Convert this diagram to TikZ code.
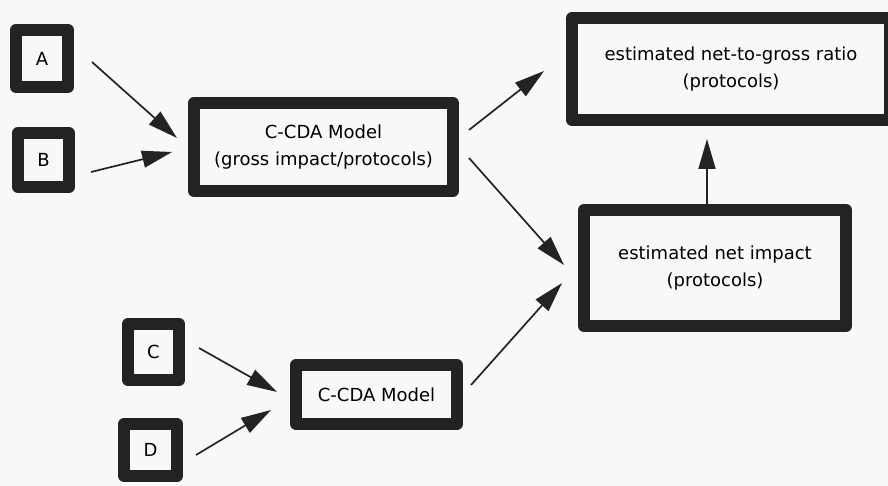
\documentclass[tikz,border=0pt]{standalone}
\usepackage{fontspec}
\setmainfont{DejaVu Sans}
\usetikzlibrary{arrows.meta}
\definecolor{ink}{HTML}{232323}
\definecolor{paper}{HTML}{F8F8F6}
\begin{document}
\begin{tikzpicture}[x=1pt,y=-1pt,
  box/.style={draw=ink, line width=12pt, line join=round, fill=paper,
    inner sep=0pt, align=center, text=black,
    font=\fontsize{18}{27}\selectfont},
  arr/.style={draw=ink, line width=1.7pt,
    -{Triangle[length=30pt,width=17pt]}}]
  % canvas
  \useasboundingbox (0,0) rectangle (888,486);
  \clip (0,0) rectangle (888,486);
  \fill[paper] (0,0) rectangle (888,486);

  % input boxes
  \node[box, minimum width=52pt, minimum height=57pt] (A) at (42,58.5) {A};
  \node[box, minimum width=51pt, minimum height=54pt] (B) at (43.5,160) {B};
  \node[box, minimum width=51pt, minimum height=56pt] (C) at (153.5,352) {C};
  \node[box, minimum width=53pt, minimum height=52pt] (D) at (150.5,450) {D};

  % models
  \node[box, minimum width=259pt, minimum height=88pt] (G) at (323.5,147)
    {C-CDA Model\\(gross impact/protocols)};
  \node[box, minimum width=161pt, minimum height=59pt] (M) at (376.5,394.5)
    {C-CDA Model};

  % results
  \node[box, minimum width=318pt, minimum height=102pt] (R) at (731,69)
    {estimated net-to-gross ratio\\(protocols)};
  \node[box, minimum width=262pt, minimum height=116pt] (N) at (715,268)
    {estimated net impact\\(protocols)};

  % connectors
  \draw[arr] ([shift={(18,3.5)}]A.east) -- ([shift={(-11,-9)}]G.west);
  \draw[arr] ([shift={(16,12)}]B.east) -- ([shift={(-16,5)}]G.west);
  \draw[arr] ([shift={(10,-17)}]G.east) -- ([shift={(-22,2)}]R.west);
  \draw[arr] ([shift={(10,11)}]G.east) -- ([shift={(-14,-3)}]N.west);
  \draw[arr] ([shift={(14,-4)}]C.east) -- ([shift={(-13,-2.5)}]M.west);
  \draw[arr] ([shift={(13,5)}]D.east) -- ([shift={(-19,15.5)}]M.west);
  \draw[arr] ([shift={(8,-9.5)}]M.east) -- ([shift={(-16,15)}]N.west);
  \draw[arr] ([shift={(-8,0)}]N.north) -- ([shift={(-24,13)}]R.south);
\end{tikzpicture}
\end{document}
